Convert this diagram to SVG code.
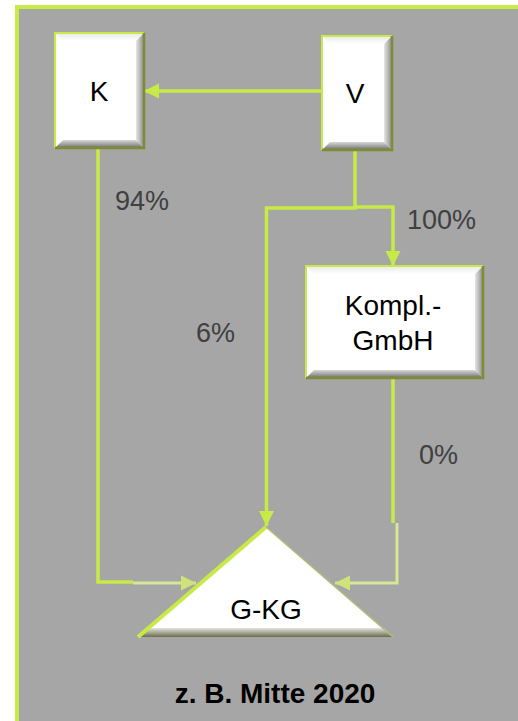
<svg xmlns="http://www.w3.org/2000/svg" width="518" height="721" viewBox="0 0 518 721">
  <style>
    .lbl { font-family: "Liberation Sans", Arial, sans-serif; font-size: 27px; fill: #404040; }
    .txt { font-family: "Liberation Sans", Arial, sans-serif; font-size: 28px; fill: #000; text-anchor: middle; }
    .cap { font-family: "Liberation Sans", Arial, sans-serif; font-size: 28px; font-weight: bold; fill: #000; text-anchor: middle; }
    .wire { fill: none; stroke: #C8EA47; stroke-width: 3.5; }
    .pale { fill: none; stroke: #D6E69A; stroke-width: 3; }
    .face { fill: #FFFFFF; }
    .rim { fill: none; stroke: #C8EA47; stroke-width: 2; }
    .rimdark { fill: none; stroke: #7E8C32; stroke-width: 2.5; }
  </style>
  <defs>
    <linearGradient id="bevelBottom" x1="0" y1="0" x2="0" y2="1">
      <stop offset="0" stop-color="#D8D8D8"/>
      <stop offset="1" stop-color="#6E6E6E"/>
    </linearGradient>
    <linearGradient id="bevelRight" x1="0" y1="0" x2="1" y2="0">
      <stop offset="0" stop-color="#E6E6E6"/>
      <stop offset="1" stop-color="#8A8A8A"/>
    </linearGradient>
    <linearGradient id="bevelTop" x1="0" y1="0" x2="0" y2="1">
      <stop offset="0" stop-color="#E8E8E8"/>
      <stop offset="1" stop-color="#FFFFFF"/>
    </linearGradient>
    <linearGradient id="triBase" x1="0" y1="0" x2="0" y2="1">
      <stop offset="0" stop-color="#E4E4E4"/>
      <stop offset="1" stop-color="#6C6E48"/>
    </linearGradient>
    <linearGradient id="triRight" x1="0" y1="0" x2="1" y2="-0.9">
      <stop offset="0" stop-color="#FFFFFF"/>
      <stop offset="1" stop-color="#A8AE78"/>
    </linearGradient>
    <marker id="head" markerWidth="16" markerHeight="16" refX="15" refY="8" orient="auto" markerUnits="userSpaceOnUse">
      <path d="M0,0.5 L15,8 L0,15.5 Z" fill="#C8EA47"/>
    </marker>
    <marker id="headPale" markerWidth="16" markerHeight="16" refX="15" refY="8" orient="auto" markerUnits="userSpaceOnUse">
      <path d="M0,0.5 L15,8 L0,15.5 Z" fill="#D0E27A"/>
    </marker>
  </defs>

  <!-- page and framed panel -->
  <rect x="0" y="0" width="518" height="721" fill="#FFFFFF"/>
  <rect x="15" y="5" width="503" height="716" fill="#A6A6A6"/>
  <rect x="15" y="5" width="4" height="716" fill="#C8EA47"/>
  <rect x="15" y="5" width="503" height="4" fill="#C8EA47"/>

  <!-- connectors -->
  <g id="connectors">
    <path class="wire" d="M322,91 H144" marker-end="url(#head)"/>
    <path class="wire" d="M355,150 V208 H266.5 V526" marker-end="url(#head)"/>
    <path class="wire" d="M355,207 H393 V266" marker-end="url(#head)"/>
    <path class="wire" d="M393,378 V523"/>
    <path class="pale" d="M397,523 V583 H335" marker-end="url(#headPale)"/>
    <path class="wire" d="M98,148 V582 H133"/>
    <path class="pale" d="M133,583 H196" marker-end="url(#headPale)"/>
  </g>

  <!-- node K -->
  <g id="node-k">
    <rect class="face" x="55" y="33" width="89" height="115"/>
    <polygon points="55,33 144,33 136,41 63,41" fill="url(#bevelTop)"/>
    <polygon points="144,33 144,148 136,140 136,41" fill="url(#bevelRight)"/>
    <polygon points="55,148 144,148 136,140 63,140" fill="url(#bevelBottom)"/>
    <path class="rim" d="M55,148 V33 H144"/>
    <path class="rimdark" d="M144,33 V148 H55"/>
    <text class="txt" x="99" y="101">K</text>
  </g>

  <!-- node V -->
  <g id="node-v">
    <rect class="face" x="322" y="36" width="70" height="114"/>
    <polygon points="322,36 392,36 384,44 330,44" fill="url(#bevelTop)"/>
    <polygon points="392,36 392,150 384,142 384,44" fill="url(#bevelRight)"/>
    <polygon points="322,150 392,150 384,142 330,142" fill="url(#bevelBottom)"/>
    <path class="rim" d="M322,150 V36 H392"/>
    <path class="rimdark" d="M392,36 V150 H322"/>
    <text class="txt" x="355" y="103">V</text>
  </g>

  <!-- node Kompl.-GmbH -->
  <g id="node-kompl">
    <rect class="face" x="306" y="266" width="177" height="112"/>
    <polygon points="306,266 483,266 475,274 314,274" fill="url(#bevelTop)"/>
    <polygon points="483,266 483,378 475,370 475,274" fill="url(#bevelRight)"/>
    <polygon points="306,378 483,378 475,370 314,370" fill="url(#bevelBottom)"/>
    <path class="rim" d="M306,378 V266 H483"/>
    <path class="rimdark" d="M483,266 V378 H306"/>
    <text class="txt" x="393" y="315">Kompl.-</text>
    <text class="txt" x="393" y="350">GmbH</text>
  </g>

  <!-- node G-KG -->
  <g id="node-gkg">
    <polygon points="138,637 266,527 393,637" fill="#FFFFFF"/>
    <polygon points="266,527 393,637 380,630 266,539" fill="url(#triRight)"/>
    <polygon points="148,628 384,628 393,637 138,637" fill="url(#triBase)"/>
    <path d="M138,637 L266,527" stroke="#C8EA47" stroke-width="4" fill="none"/>
    <path d="M266,527 L393,637" stroke="#B4BC78" stroke-width="1.5" fill="none"/>
    <text class="txt" x="266" y="619">G-KG</text>
  </g>

  <!-- share labels -->
  <text class="lbl" x="115" y="210">94%</text>
  <text class="lbl" x="407" y="229">100%</text>
  <text class="lbl" x="196" y="342">6%</text>
  <text class="lbl" x="419" y="464">0%</text>

  <text class="cap" x="275" y="703">z. B. Mitte 2020</text>
</svg>
